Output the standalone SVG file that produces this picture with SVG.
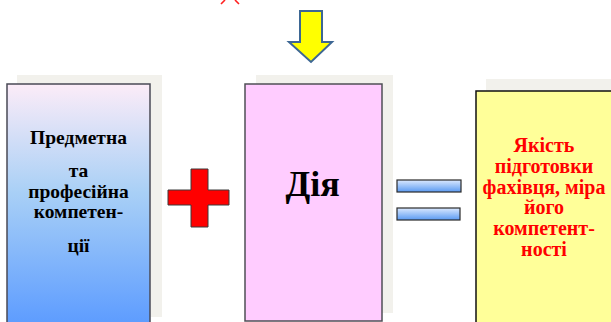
<svg xmlns="http://www.w3.org/2000/svg" width="611" height="322" viewBox="0 0 611 322">
<style>
.shadow{fill:#f2f1ec}
.t{font-family:"Liberation Serif","Times New Roman",serif;font-weight:bold;text-anchor:middle}
.blk{fill:#000}
.red{fill:#ff0000}
.bar{fill:url(#barGrad);stroke:#2b2b2b;stroke-width:1.2}
</style>
<defs>
<linearGradient id="leftGrad" x1="0" y1="0" x2="0" y2="1">
<stop offset="0" stop-color="#fcecf8"/>
<stop offset="0.45" stop-color="#a9d0f6"/>
<stop offset="1" stop-color="#5d9cff"/>
</linearGradient>
<linearGradient id="barGrad" x1="0" y1="0" x2="0" y2="1">
<stop offset="0" stop-color="#dbe9ff"/>
<stop offset="1" stop-color="#5a9af2"/>
</linearGradient>
</defs>
<path d="M221,4 L225,0 M239,4 L235,0" stroke="#ff2020" stroke-width="1.6" fill="none"/>
<g id="arrow">
<polygon points="300,11 322,11 322,42 332,42 311,62 289,42 300,42" fill="#ffff00" stroke="#3d6794" stroke-width="2"/>
</g>
<g id="competence">
<rect class="shadow" x="17" y="75" width="145" height="242"/>
<rect x="7" y="84" width="143" height="240" fill="url(#leftGrad)" stroke="#4a4a55" stroke-width="1.5"/>
<text class="t blk" font-size="19.5" x="78.5" y="144">Предметна</text>
<text class="t blk" font-size="19.5" x="78.5" y="177">та</text>
<text class="t blk" font-size="19.5" x="78.5" y="198">професійна</text>
<text class="t blk" font-size="19.5" x="78.5" y="218">компетен-</text>
<text class="t blk" font-size="19.5" x="78.5" y="252">ції</text>
</g>
<g id="plus">
<polygon points="191,169 208,169 208,190 229,190 229,205 208,205 208,227 191,227 191,205 168,205 168,190 191,190" fill="#ff0000" stroke="#3a3a3a" stroke-width="1"/>
</g>
<g id="action">
<rect class="shadow" x="256" y="75" width="137" height="238"/>
<rect x="245" y="84" width="137" height="237" fill="#ffccff" stroke="#4f4f55" stroke-width="1.5"/>
<text class="t blk" font-size="36" x="312.5" y="196">Дія</text>
</g>
<g id="equals">
<rect class="bar" x="397" y="180" width="64" height="12"/>
<rect class="bar" x="397" y="208" width="63" height="12"/>
</g>
<g id="quality">
<rect class="shadow" x="486" y="79" width="130" height="245"/>
<rect x="476" y="91" width="140" height="235" fill="#ffff99" stroke="#111" stroke-width="1.5"/>
<text class="t red" font-size="20" x="544" y="152">Якість</text>
<text class="t red" font-size="20" x="544" y="173">підготовки</text>
<text class="t red" font-size="20" x="544" y="194">фахівця, міра</text>
<text class="t red" font-size="20" x="544" y="214">його</text>
<text class="t red" font-size="20" x="544" y="235">компетент-</text>
<text class="t red" font-size="20" x="544" y="256">ності</text>
</g>
</svg>
